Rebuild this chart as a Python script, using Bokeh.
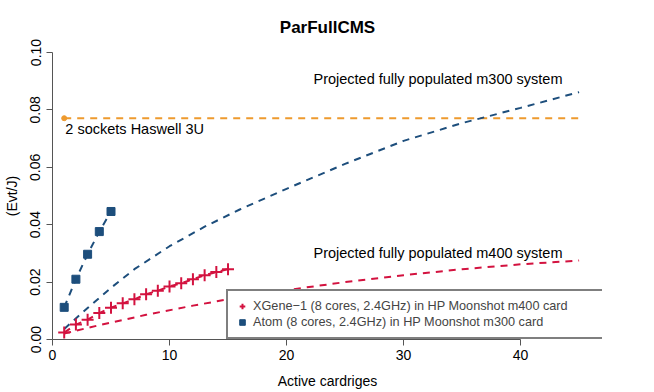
from bokeh.plotting import figure
from bokeh.models import Range1d, FixedTicker, PrintfTickFormatter
from bokeh.core.properties import value
from bokeh.embed import file_html
from bokeh.resources import INLINE

# ---- data ----
xgene_x = [1, 2, 3, 4, 5, 6, 7, 8, 9, 10, 11, 12, 13, 14, 15]
xgene_y = [0.0024, 0.0052, 0.0069, 0.0092, 0.0111, 0.0126, 0.0140, 0.0158,
           0.0170, 0.0185, 0.0196, 0.0210, 0.0224, 0.0235, 0.0245]
atom_x = [1, 2, 3, 4, 5]
atom_y = [0.0112, 0.0210, 0.0297, 0.0376, 0.0446]
proj_m300_x = [1, 3, 5, 7, 10, 13, 16, 20, 25, 30, 35, 40, 45]
proj_m300_y = [0.0037, 0.0110, 0.0180, 0.0245, 0.0325, 0.0393, 0.0453,
               0.0525, 0.0612, 0.0692, 0.0754, 0.0807, 0.0862]
proj_m400_x = [1, 4, 8, 12, 15, 20, 25, 30, 35, 40, 45]
proj_m400_y = [0.0021, 0.0050, 0.0086, 0.0118, 0.0140, 0.0172, 0.0200,
               0.0224, 0.0245, 0.0262, 0.0275]
haswell_x = [1, 45]
haswell_y = [0.0771, 0.0771]
x_ticks = [0, 10, 20, 30, 40]
y_ticks = [0.0, 0.02, 0.04, 0.06, 0.08, 0.10]

RED = "#D3123F"
BLUE = "#1D4E7C"
ORANGE = "#EE9A2E"
FONT = "Liberation Sans"

p = figure(width=654, height=392, x_range=Range1d(0, 47), y_range=Range1d(0, 0.1),
           output_backend="svg", toolbar_location=None,
           min_border_left=52, min_border_right=52, min_border_top=52, min_border_bottom=53)

p.outline_line_color = None
p.xgrid.visible = False
p.ygrid.visible = False
p.background_fill_color = "white"

p.title.text = "ParFullCMS"
p.title.align = "center"
p.title.text_font = FONT
p.title.text_font_size = "17px"
p.title.text_font_style = "bold"
p.title.text_color = "black"
p.title.standoff = 31

for ax in (p.xaxis[0], p.yaxis[0]):
    ax.axis_line_color = "#555555"
    ax.major_tick_line_color = "#555555"
    ax.major_tick_in = 0
    ax.major_tick_out = 6
    ax.minor_tick_line_color = None
    ax.major_label_text_font = FONT
    ax.major_label_text_font_size = "14px"
    ax.major_label_text_color = "black"
    ax.axis_label_text_font = FONT
    ax.axis_label_text_font_size = "14px"
    ax.axis_label_text_font_style = "normal"
    ax.axis_label_text_color = "black"

p.xaxis.ticker = FixedTicker(ticks=x_ticks)
p.xaxis.bounds = (0, 40)
p.xaxis.axis_label = "Active cardriges"
p.xaxis.major_label_standoff = 4
p.xaxis.axis_label_standoff = 10

p.yaxis.ticker = FixedTicker(ticks=y_ticks)
p.yaxis.bounds = (0, 0.1)
p.yaxis.formatter = PrintfTickFormatter(format="%.2f")
p.yaxis.major_label_orientation = "vertical"
p.yaxis.axis_label = "(Evt/J)"
p.yaxis.major_label_standoff = 6
p.yaxis.axis_label_standoff = 8

# reference line
p.line(haswell_x, haswell_y, line_color=ORANGE, line_width=2, line_dash="7 6")
p.scatter(haswell_x[:1], haswell_y[:1], marker="circle", size=5,
          fill_color=ORANGE, line_color=ORANGE)

# projections
p.line(proj_m300_x, proj_m300_y, line_color=BLUE, line_width=2, line_dash="7 6")
p.line(proj_m400_x, proj_m400_y, line_color=RED, line_width=2, line_dash="7 6")

# measured
p.line(xgene_x, xgene_y, line_color=RED, line_width=2, line_dash="7 6")
p.line(atom_x, atom_y, line_color=BLUE, line_width=2, line_dash="7 6")
p.scatter(xgene_x, xgene_y, marker="cross", size=12, line_color=RED, line_width=2,
          legend_label="XGene\u22121 (8 cores, 2.4GHz) in HP Moonshot m400 card")
p.scatter(atom_x, atom_y, marker="square", size=8, fill_color=BLUE, line_color=BLUE,
          legend_label="Atom (8 cores, 2.4GHz) in HP Moonshot m300 card")

# annotations
p.text(x=[22.3], y=[0.0906], text=["Projected fully populated m300 system"],
       text_font=value(FONT), text_font_size="14.5px", text_align="left",
       text_baseline="middle", text_color="black")
p.text(x=[22.3], y=[0.0303], text=["Projected fully populated m400 system"],
       text_font=value(FONT), text_font_size="14.5px", text_align="left",
       text_baseline="middle", text_color="black")
p.text(x=[1.1], y=[0.0735], text=["2 sockets Haswell 3U"],
       text_font=value(FONT), text_font_size="14.5px", text_align="left",
       text_baseline="middle", text_color="black")

lg = p.legend[0]
lg.location = (174, 0)
lg.padding = 7
lg.margin = 0
lg.spacing = 0
lg.glyph_width = 14
lg.glyph_height = 16
lg.label_height = 16
lg.label_width = 344
lg.label_standoff = 4
lg.label_text_font = FONT
lg.label_text_font_size = "12.7px"
lg.border_line_color = "black"
lg.border_line_width = 2
lg.background_fill_color = "white"
lg.background_fill_alpha = 1.0

open("out.html", "w").write(file_html(p, INLINE))
